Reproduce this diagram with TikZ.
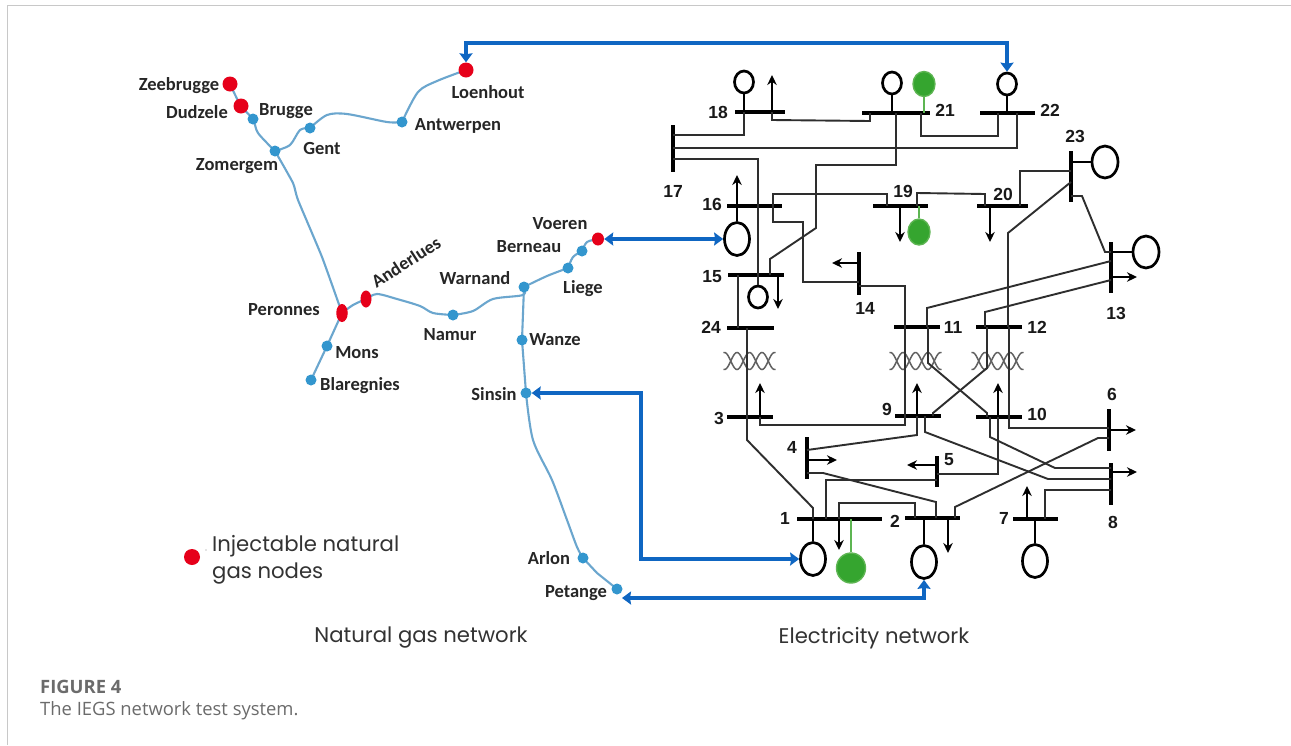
\documentclass[tikz,border=0pt]{standalone}
\usepackage{fontspec}
\setmainfont{Liberation Sans}
\newfontfamily\gasfont{Carlito}
\newfontfamily\notefont{Open Sans}
\newfontfamily\legendfont{Poppins}
\usetikzlibrary{arrows.meta,shapes.geometric,calc,backgrounds}
\definecolor{gasline}{HTML}{6BA6CE}
\definecolor{gasnode}{HTML}{3396CE}
\definecolor{inject}{HTML}{E6001A}
\definecolor{linkblue}{HTML}{0F66C2}
\definecolor{genfill}{HTML}{35A52F}
\definecolor{genedge}{HTML}{5DB552}
\definecolor{framegray}{HTML}{C8C8C8}
\tikzset{
  x=1pt,y=-1pt,
  hbus/.style={rectangle,fill=black,inner sep=0pt,minimum height=4.2pt,minimum width=#1},
  vbus/.style={rectangle,fill=black,inner sep=0pt,minimum width=4.4pt,minimum height=#1},
  gen/.style={ellipse,draw=black,line width=2.7pt,inner sep=0pt,minimum width=#1},
  ggen/.style={ellipse,draw=genedge,fill=genfill,line width=1.4pt,inner sep=0pt,minimum width=#1},
  wire/.style={draw=black!82,line width=1.9pt,line join=miter},
  stem/.style={draw=black,line width=2.6pt},
  gstem/.style={draw=genedge,line width=2pt},
  load/.style={draw=black,line width=2.3pt,-{Stealth[length=10pt,width=9.5pt]}},
  coil/.style={draw=black!62,line width=1.5pt},
  gas/.style={draw=gasline,line width=2.1pt,line cap=round,line join=round},
  gnode/.style={circle,fill=gasnode,inner sep=0pt,minimum size=11pt},
  rnode/.style={ellipse,fill=inject,inner sep=0pt},
  link/.style={draw=linkblue,line width=4.6pt,{Stealth[length=9pt,width=13pt,inset=1pt]}-{Stealth[length=9pt,width=13pt,inset=1pt]}},
  gaslabel/.style={font=\gasfont\bfseries\fontsize{18.5}{20}\selectfont,text=black!85,inner sep=0pt},
  buslabel/.style={font=\bfseries\fontsize{17.5}{20}\selectfont,text=black!90,inner sep=0pt},
  note/.style={font=\legendfont\fontsize{21.2}{24}\selectfont,text=black!80,inner sep=0pt},
  caption/.style={font=\notefont\fontsize{18.4}{22}\selectfont,text=black!58,inner sep=0pt,anchor=west},
  xfmr/.pic={
    \draw[coil] plot[domain=-26:26,samples=70,smooth] (\x,{8.5*sin(14.4*(\x+6.25))});
    \draw[coil] plot[domain=-26:26,samples=70,smooth] (\x,{-8.5*sin(14.4*(\x+6.25))});
  }
}
\begin{document}
\begin{tikzpicture}
\useasboundingbox (0,0) rectangle (1291,745);
% frame
\coordinate (fa) at (7.5,745);
\coordinate (fb) at (7.5,5.5);
\coordinate (fc) at (1291,5.5);

% ---------- gas network nodes
\node[rnode,minimum width=15pt,minimum height=15pt] (zee) at (230,84) {};
\node[rnode,minimum width=15pt,minimum height=15pt] (dud) at (241,106) {};
\node[gnode] (bru) at (253,119) {};
\node[gnode] (zom) at (275,151) {};
\node[gnode] (gen) at (310,128) {};
\node[gnode] (ant) at (402,122) {};
\node[rnode,minimum width=15pt,minimum height=15pt] (loe) at (466,70) {};
\node[rnode,minimum width=11.5pt,minimum height=18pt] (per) at (342,313) {};
\node[rnode,minimum width=11pt,minimum height=17pt] (and) at (366,299) {};
\node[gnode] (nam) at (453,315) {};
\node[gnode] (war) at (524,287) {};
\node[gnode] (lie) at (568,268) {};
\node[gnode] (ber) at (582,251) {};
\node[rnode,minimum width=12pt,minimum height=13pt] (voe) at (598,239) {};
\node[gnode] (mon) at (327,346) {};
\node[gnode] (bla) at (311,380) {};
\node[gnode] (wan) at (522,340) {};
\node[gnode] (sin) at (526,393) {};
\node[gnode] (arl) at (583,558) {};
\node[gnode] (pet) at (617,589) {};

\begin{scope}[on background layer]
\fill[white] (0,0) rectangle (1291,745);
\draw[framegray,line width=1.3pt] (fa) -- (fb) -- (fc);
\draw[gas] plot[smooth,tension=.5] coordinates {(zee.center) (dud.center) (bru.center) (258,133) (zom.center)};
\draw[gas] plot[smooth,tension=.5] coordinates {(zom.center) (290,145) (300,130) (gen.center)};
\draw[gas] plot[smooth,tension=.5] coordinates {(gen.center) (327,115) (347,114) (387,122) (ant.center)};
\draw[gas] plot[smooth,tension=.5] coordinates {(ant.center) (418,92) (437,81) (loe.center)};
\draw[gas] plot[smooth,tension=.3] coordinates {(zom.center) (293,183) (298,200) (322,257) (per.center)};
\draw[gas] plot[smooth,tension=.5] coordinates {(per.center) (353,305) (and.center)};
\draw[gas] plot[smooth,tension=.5] coordinates {(and.center) (377,294) (397,299) (420,306) (433,313) (nam.center)};
\draw[gas] plot[smooth,tension=.5] coordinates {(nam.center) (473,311) (493,299) (523,295) (war.center)};
\draw[gas] plot[smooth,tension=.5] coordinates {(war.center) (547,276) (lie.center)};
\draw[gas] plot[smooth,tension=.5] coordinates {(lie.center) (573,257) (ber.center)};
\draw[gas] plot[smooth,tension=.5] coordinates {(ber.center) (587,242) (voe.center)};
\draw[gas] (per.center) -- (mon.center) -- (bla.center);
\draw[gas] (war.center) -- (wan.center) -- (sin.center);
\draw[gas] plot[smooth,tension=.5] coordinates {(sin.center) (533,440) (552,480) (567,520) (577,547) (arl.center)};
\draw[gas] (arl.center) -- (597,573) -- (pet.center);
\end{scope}

% gas labels
\node[gaslabel] at (179,86) {Zeebrugge};
\node[gaslabel] at (197,112) {Dudzele};
\node[gaslabel] at (286,111) {Brugge};
\node[gaslabel] at (322,148) {Gent};
\node[gaslabel] at (237,166) {Zomergem};
\node[gaslabel] at (458,126) {Antwerpen};
\node[gaslabel] at (488,92) {Loenhout};
\node[gaslabel] at (284,310) {Peronnes};
\node[gaslabel,rotate=33] at (406,262) {Anderlues};
\node[gaslabel] at (475,278) {Warnand};
\node[gaslabel] at (529,247) {Berneau};
\node[gaslabel] at (560,224) {Voeren};
\node[gaslabel] at (583,289) {Liege};
\node[gaslabel] at (450,335) {Namur};
\node[gaslabel] at (357,353) {Mons};
\node[gaslabel] at (360,386) {Blaregnies};
\node[gaslabel] at (555,340) {Wanze};
\node[gaslabel] at (494,394) {Sinsin};
\node[gaslabel] at (549,558) {Arlon};
\node[gaslabel] at (576,593) {Petange};

% ---------- buses
\node[hbus=50pt] (b18) at (760,112) {};
\node[hbus=68pt] (b21) at (896,113) {};
\node[hbus=55pt] (b22) at (1007.5,113) {};
\node[vbus=47pt] (b17) at (673,148.5) {};
\node[hbus=55pt] (b16) at (754.5,206) {};
\node[hbus=55pt] (b19) at (900.5,206) {};
\node[hbus=51pt] (b20) at (1002.5,206) {};
\node[vbus=51pt] (b23) at (1071,176.5) {};
\node[vbus=51pt] (b13) at (1111,267.5) {};
\node[vbus=43pt] (b14) at (859,273.5) {};
\node[hbus=56pt] (b15) at (756,275) {};
\node[hbus=47pt] (b24) at (750.5,328) {};
\node[hbus=46pt] (b11) at (917,327) {};
\node[hbus=46pt] (b12) at (999,327) {};
\node[hbus=46pt] (b3) at (750,417) {};
\node[hbus=46pt] (b9) at (918,416) {};
\node[hbus=46pt] (b10) at (999,417) {};
\node[vbus=42pt] (b6) at (1109,430) {};
\node[vbus=42pt] (b8) at (1111,484) {};
\node[vbus=42pt] (b4) at (807,458) {};
\node[vbus=31pt] (b5) at (937,471.5) {};
\node[hbus=85pt] (b1) at (839.5,519) {};
\node[hbus=55pt] (b2) at (932.5,518) {};
\node[hbus=45pt] (b7) at (1035.5,519) {};

% bus labels
\node[buslabel] at (718,112) {18};
\node[buslabel] at (945,110) {21};
\node[buslabel] at (1050,110) {22};
\node[buslabel] at (1075,136) {23};
\node[buslabel] at (673,191) {17};
\node[buslabel] at (712,204) {16};
\node[buslabel] at (903,191) {19};
\node[buslabel] at (1003,194) {20};
\node[buslabel] at (712,277) {15};
\node[buslabel] at (865,308) {14};
\node[buslabel] at (1116,313) {13};
\node[buslabel] at (711,327) {24};
\node[buslabel] at (953,327) {11};
\node[buslabel] at (1037,327) {12};
\node[buslabel] at (719,418) {3};
\node[buslabel] at (887,409) {9};
\node[buslabel] at (1037,414) {10};
\node[buslabel] at (1112,394) {6};
\node[buslabel] at (792,447) {4};
\node[buslabel] at (949,460) {5};
\node[buslabel] at (785,518) {1};
\node[buslabel] at (895,521) {2};
\node[buslabel] at (1004,518) {7};
\node[buslabel] at (1113,522) {8};

% generators
\node[gen=19pt,minimum height=22pt] (g18) at (744,82) {};
\node[gen=19pt,minimum height=22pt] (g21) at (892,83) {};
\node[gen=19pt,minimum height=22pt] (g22) at (1007,84) {};
\node[gen=25pt,minimum height=33pt] (g16) at (737,239) {};
\node[gen=19pt,minimum height=22pt] (g15) at (758,297) {};
\node[gen=26pt,minimum height=32pt] (g23) at (1105,162) {};
\node[gen=26pt,minimum height=32pt] (g13) at (1146,252) {};
\node[gen=25pt,minimum height=33pt] (g1) at (813,559) {};
\node[gen=25pt,minimum height=33pt] (g2) at (924,562) {};
\node[gen=25pt,minimum height=33pt] (g7) at (1035,561) {};
\node[ggen=22pt,minimum height=25pt] (ga21) at (924,84) {};
\node[ggen=22pt,minimum height=26pt] (ga19) at (919,232) {};
\node[ggen=29pt,minimum height=30pt] (ga1) at (851,568) {};

\draw[stem] (g18.south) -- (b18 -| g18);
\draw[stem] (g21.south) -- (b21 -| g21);
\draw[stem] (g22.south) -- (b22 -| g22);
\draw[stem] (g16.north) -- (b16 -| g16);
\draw[stem] (g23.west) -- (b23 |- g23);
\draw[stem] (g13.west) -- (b13 |- g13);
\draw[stem] (g1.north) -- (b1 -| g1);
\draw[stem] (g2.north) -- (b2 -| g2);
\draw[stem] (g7.north) -- (b7 -| g7);
\draw[gstem] (ga21.south) -- (b21 -| ga21);
\draw[gstem] (ga19.north) -- (b19 -| ga19);
\draw[gstem] (ga1.north) -- (b1 -| ga1);

% loads
\coordinate (l18) at (772,75);
\coordinate (l16) at (737,175);
\coordinate (l19) at (900,242);
\coordinate (l20) at (990,242);
\coordinate (l15) at (778,309);
\coordinate (l14) at (832,263);
\coordinate (l13) at (1137,277);
\coordinate (l3) at (760,383);
\coordinate (l9) at (917,383);
\coordinate (l10) at (998,383);
\coordinate (l6) at (1136,430);
\coordinate (l8) at (1137,472);
\coordinate (l4) at (837,460);
\coordinate (l5) at (907,465);
\coordinate (l1) at (839,550);
\coordinate (l2) at (948,553);
\coordinate (l7) at (1027,486);
\foreach \b/\l in {b18/l18,b16/l16,b19/l19,b20/l20,b15/l15,b3/l3,b9/l9,b10/l10,b1/l1,b2/l2,b7/l7}{\draw[load] (\b -| \l) -- (\l);}
\foreach \b/\l in {b14/l14,b13/l13,b6/l6,b8/l8,b4/l4,b5/l5}{\draw[load] (\b |- \l) -- (\l);}

% transformers
\pic at (749.5,361) {xfmr};
\pic at (915.5,361) {xfmr};
\pic at (997.5,361) {xfmr};

% lines
\draw[wire] (b18 -| 772,0) -- (772,120) -- (870,121) -- (b21 -| 870,0);
\draw[wire] (b18 -| g18) -- (744,135) -- (b17 |- 0,135);
\draw[wire] (b17 |- 0,148) -- (1017,148) -- (b22 -| 1017,0);
\draw[wire] (b17 |- 0,159) -- (758,159) -- (g15.north);
\draw[wire] (b21 -| 921,0) -- (921,136) -- (998,136) -- (b22 -| 998,0);
\draw[wire] (b21 -| 896,0) -- (896,165) -- (816,165) -- (816,228) -- (770,259) -- (b15 -| 770,0);
\draw[wire] (b16 -| 773,0) -- (773,194) -- (887,194) -- (b19 -| 887,0);
\draw[wire] (b16 -| 773,0) -- (773,222) -- (803,222) -- (803,282) -- (b14 |- 0,282);
\draw[wire] (b14 |- 0,286) -- (905,286) -- (b11 -| 905,0);
\draw[wire] (b19 -| 917,0) -- (917,193) -- (985,194) -- (b20 -| 985,0);
\draw[wire] (b20 -| 1020,0) -- (1020,171) -- (b23 |- 0,171);
\draw[wire] (b23 |- 0,182) -- (1008,233) -- (b12 -| 1008,0);
\draw[wire] (b23 |- 0,196) -- (1082,196) -- (1105,252) -- (b13 |- 0,252);
\draw[wire] (b15 -| 738,0) -- (b24 -| 738,0);
\draw[wire] (b13 |- 0,261) -- (927,308) -- (b11 -| 927,0);
\draw[wire] (b13 |- 0,280) -- (985,312) -- (b12 -| 985,0);
\draw[wire] (b24 -| 747,0) -- (b3 -| 747,0);
\draw[wire] (b3 -| 747,0) -- (747,440) -- (813,508) -- (b1 -| 813,0);
\draw[wire] (b3 -| 760,0) -- (760,425) -- (905,425) -- (b11 -| 905,0);
\draw[wire] (b11 -| 928,0) -- (928,363) -- (987,413) -- (b10 -| 987,0);
\draw[wire] (b12 -| 987,0) -- (987,368) -- (933,413) -- (b9 -| 933,0);
\draw[wire] (b12 -| 1009,0) -- (1009,428) -- (b6 |- 0,428);
\draw[wire] (b9 -| 917,0) -- (917,435) -- (b4 |- 0,450);
\draw[wire] (b4 |- 0,473) -- (823,473) -- (936,502) -- (b2 -| 936,0);
\draw[wire] (b5 |- 0,474) -- (998,474) -- (b10 -| 998,0);
\draw[wire] (b5 |- 0,480) -- (826,480) -- (b1 -| 826,0);
\draw[wire] (b10 -| 990,0) -- (990,437) -- (1055,468) -- (b8 |- 0,468);
\draw[wire] (b9 -| 925,0) -- (925,432) -- (1048,479) -- (b8 |- 0,479);
\draw[wire] (b6 |- 0,438) -- (1098,438) -- (955,507) -- (b2 -| 955,0);
\draw[wire] (b8 |- 0,490) -- (1045,490) -- (b7 -| 1045,0);
\draw[wire] (b1 -| 839,0) -- (839,503) -- (915,503) -- (b2 -| 915,0);

% coupling arrows
\draw[link] (loe.north) -- (loe |- 0,43) -- (g22 |- 0,43) -- (g22.north);
\draw[link] (voe.east) -- (g16.west);
\draw[link] (sin.east) -- (641,393) -- (641,559) -- (g1.west);
\coordinate (petarrow) at (622,598);
\draw[link] (petarrow) -- (petarrow -| g2) -- (g2.south);

% legend and captions
\fill[inject] (192,557) circle[radius=8];
\fill[black!45] (206,550) circle[radius=.6];
\node[note,anchor=west] at (212,546) {Injectable natural};
\node[note,anchor=west] at (212,574) {gas nodes};
\node[note] at (421,638) {Natural gas network};
\node[note] at (874,638) {Electricity network};
\node[caption,font=\notefont\bfseries\fontsize{18.4}{22}\selectfont] at (40,687) {FIGURE 4};
\node[caption] at (40,711) {The IEGS network test system.};
\end{tikzpicture}
\end{document}
